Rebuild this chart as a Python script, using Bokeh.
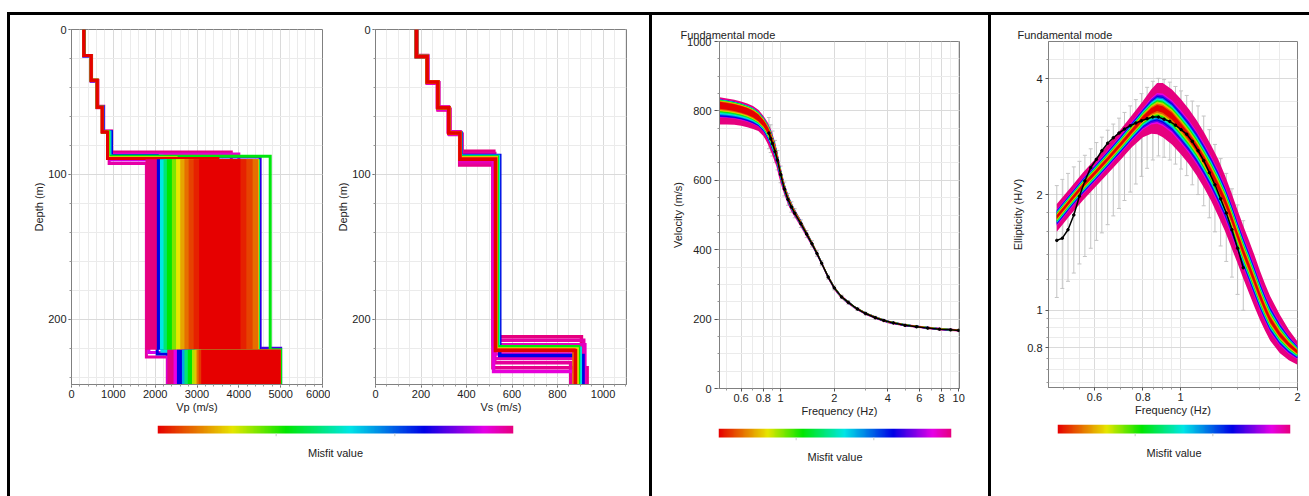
import numpy as np
from bokeh.plotting import figure
from bokeh.layouts import row, column
from bokeh.models import (Range1d, FixedTicker, Spacer, LinearColorMapper,
                          ColumnDataSource, Whisker, TeeHead, CustomJSTickFormatter)
from bokeh.embed import file_html
from bokeh.resources import INLINE

FONT = "Liberation Sans"
TXT = "#222222"

# ---------------------------------------------------------------- misfit scale
# 0 = best model (red) ... 1 = worst model (pink)
scale_pos = [0.0, 0.21, 0.36, 0.54, 0.75, 0.92, 1.0]
scale_rgb = [(230, 0, 0), (230, 230, 0), (0, 230, 0), (0, 230, 230),
             (0, 0, 230), (230, 0, 230), (230, 0, 127)]


def misfit_color(m):
    rgb = [int(round(np.interp(m, scale_pos, [c[k] for c in scale_rgb]))) for k in range(3)]
    return "#%02x%02x%02x" % tuple(rgb)


palette = [misfit_color(i / 255) for i in range(256)]

# ---------------------------------------------------------------- Vs models
DEPTH_MAX = 245
vs_misfit = [1.00, 0.99, 0.98, 0.97, 0.96, 0.95, 0.94, 0.93,
             0.75, 0.55, 0.37, 0.20, 0.09, 0.00]
vs_values = [
    [180, 229, 278, 327, 380, 520, 905],
    [180, 226, 272, 320, 370, 516, 930],
    [180, 228, 275, 325, 378, 524, 858],
    [180, 227, 273, 321, 374, 518, 915],
    [180, 229, 277, 326, 379, 522, 895],
    [180, 226, 273, 321, 372, 517, 920],
    [180, 228, 276, 324, 377, 521, 880],
    [180, 227, 274, 322, 375, 519, 910],
    [180, 228, 276, 324, 376, 546, 912],
    [180, 227, 275, 323, 374, 540, 900],
    [180, 227, 274, 322, 373, 535, 892],
    [180, 227, 274, 322, 372, 531, 886],
    [180, 227, 274, 322, 371, 529, 872],
    [180, 227, 274, 322, 371, 527, 879],
]
vs_depths = [
    [18.0, 36.8, 55.0, 72.5, 84.0, 212.0],
    [19.0, 36.0, 53.5, 70.5, 93.5, 233.5],
    [18.5, 37.0, 55.5, 72.0, 85.5, 230.0],
    [18.8, 36.5, 54.5, 71.0, 92.0, 214.5],
    [18.3, 36.9, 55.2, 72.3, 87.0, 227.0],
    [18.9, 36.1, 53.7, 70.8, 90.5, 217.5],
    [18.4, 36.7, 55.0, 72.1, 88.5, 224.0],
    [18.7, 36.2, 54.0, 71.2, 89.5, 236.0],
    [18.6, 36.4, 54.2, 71.6, 87.0, 225.0],
    [18.6, 36.3, 54.0, 71.5, 87.5, 220.0],
    [18.6, 36.3, 54.0, 71.5, 88.0, 219.0],
    [18.6, 36.3, 54.0, 71.5, 88.5, 220.5],
    [18.6, 36.3, 54.0, 71.5, 89.0, 221.0],
    [18.6, 36.3, 54.0, 71.5, 89.5, 221.5],
]

# ---------------------------------------------------------------- Vp models
vp_misfit = [1.00, 0.97, 0.94, 0.91, 0.80, 0.75, 0.55, 0.37, 0.37, 0.20, 0.00]
vp_values = [
    [300, 480, 630, 770, 960, 3820, 2290],
    [295, 465, 610, 740, 900, 1790, 2350],
    [300, 478, 625, 760, 950, 4000, 2400],
    [296, 470, 615, 750, 940, 1850, 2300],
    [298, 474, 620, 752, 945, 4510, 5000],
    [298, 476, 622, 756, 955, 2050, 2560],
    [297, 472, 616, 746, 920, 2160, 2650],
    [296, 470, 614, 740, 890, 4750, 5000],
    [296, 470, 614, 738, 880, 2330, 2750],
    [295, 470, 614, 735, 870, 2500, 2940],
    [295, 470, 614, 733, 860, 3500, 4000],
]
vp_depths = [
    [18.0, 35.0, 53.0, 70.0, 84.5, 216.0],
    [18.5, 35.5, 54.0, 71.0, 92.5, 226.0],
    [18.0, 35.2, 53.2, 70.3, 86.0, 219.0],
    [18.3, 35.6, 53.8, 70.5, 90.0, 223.0],
    [18.2, 35.4, 53.5, 70.6, 88.0, 220.0],
    [18.2, 35.4, 53.5, 70.5, 87.0, 224.0],
    [18.1, 35.2, 53.6, 70.8, 87.5, 222.0],
    [18.0, 35.0, 53.6, 70.8, 87.5, 221.0],
    [18.0, 35.0, 53.6, 70.8, 88.0, 222.5],
    [18.0, 35.0, 53.6, 70.8, 88.5, 221.5],
    [18.0, 35.0, 53.6, 70.8, 89.0, 221.5],
]

# dense ensemble of Vp in the deep layer and the half-space (range per misfit level)
vp_l6_misfit = [1.00, 0.75, 0.54, 0.45, 0.36, 0.28, 0.21, 0.15, 0.10, 0.06, 0.03, 0.00]
vp_l6_lo = [1770, 2040, 2115, 2200, 2280, 2400, 2500, 2600, 2700, 2800, 2920, 3050]
vp_l6_hi = [2050, 4520, 4505, 4495, 4490, 4485, 4480, 4475, 4460, 4330, 4180, 4040]
vp_l6_depth = [89.5, 221.0]
vp_hs_misfit = [1.00, 0.92, 0.75, 0.60, 0.45, 0.36, 0.25, 0.18, 0.10, 0.05, 0.00]
vp_hs_lo = [2290, 2440, 2520, 2640, 2700, 2780, 2880, 2940, 2990, 3040, 3100]
vp_hs_hi = [5000, 5000, 5000, 5000, 5000, 5000, 5000, 5000, 5000, 5000, 5000]
vp_hs_depth = [221.0, 245.0]

# ---------------------------------------------------------------- dispersion (Rayleigh, fundamental)
disp_freq = [0.455, 0.5, 0.55, 0.6, 0.65, 0.7, 0.75, 0.8, 0.825, 0.85, 0.875, 0.9, 0.925,
             0.95, 0.975, 1.0, 1.05, 1.1, 1.15, 1.2, 1.3, 1.4, 1.5, 1.6, 1.7, 1.85, 2.0,
             2.15, 2.3, 2.6, 3.0, 3.5, 4.0, 5.0, 6.0, 7.0, 8.0, 10.0]
disp_best = [812, 809, 805, 800, 794, 786, 775, 760, 750, 738, 723, 706, 688,
             668, 643, 617, 575, 545, 523, 505, 475, 445, 417, 389, 361, 321, 290,
             269, 255, 234, 216, 202, 192, 182, 177, 173.5, 170.5, 167.5]
disp_upper = [839, 836, 832, 827, 821, 814, 803, 786, 776, 765, 751, 734, 714,
              692, 665, 638, 593, 561, 537, 517, 486, 454, 425, 396, 367, 327, 296,
              274, 260, 238, 220, 206, 196, 186, 181, 177, 174, 171]
disp_lower = [761, 761, 760, 757, 753, 748, 742, 728, 716, 703, 688, 672, 655,
              638, 613, 592, 558, 530, 510, 494, 465, 436, 409, 382, 355, 315, 284,
              264, 250, 230, 212, 198, 188, 179, 174, 170, 167, 164]
disp_band_misfit = [1.00, 0.92, 0.82, 0.75, 0.64, 0.54, 0.45, 0.36, 0.25, 0.18, 0.09, 0.00]
disp_band_up = [1.00, 0.82, 0.80, 0.78, 0.77, 0.76, 0.75, 0.70, 0.66, 0.62, 0.58, 0.52]
disp_band_down = [1.00, 0.62, 0.58, 0.55, 0.48, 0.42, 0.36, 0.30, 0.26, 0.22, 0.18, 0.12]

disp_obs_freq = [0.86, 0.88, 0.90, 0.93, 0.96, 1.00, 1.05, 1.10, 1.15, 1.20, 1.30, 1.40, 1.50,
                 1.60, 1.70, 1.85, 2.00, 2.20, 2.40, 2.70, 3.00, 3.40, 3.80, 4.30, 5.00, 5.80,
                 6.70, 7.80, 9.00, 10.0]
disp_obs_vel = [736, 720, 706, 683, 658, 617, 575, 545, 523, 505, 475, 445, 417, 389, 361, 321,
                290, 264, 248, 229, 216, 204, 196, 189, 182, 178, 174, 171, 169, 167.5]
disp_obs_err = [45, 40, 36, 32, 28, 24, 20, 17, 15, 13, 11, 10, 9, 8, 7, 6, 6, 5, 5, 4, 4, 4,
                3, 3, 3, 3, 3, 3, 3, 3]

# ---------------------------------------------------------------- ellipticity (H/V)
ell_freq = [0.48, 0.52, 0.56, 0.60, 0.65, 0.70, 0.75, 0.80, 0.84, 0.87, 0.90, 0.95, 1.00, 1.05,
            1.10, 1.15, 1.20, 1.25, 1.30, 1.35, 1.40, 1.45, 1.50, 1.55, 1.60, 1.65, 1.70, 1.80,
            1.90, 2.00]
ell_best = [1.75, 1.93, 2.11, 2.27, 2.48, 2.70, 2.93, 3.16, 3.30, 3.36, 3.33, 3.20, 3.01, 2.83,
            2.65, 2.46, 2.28, 2.10, 1.93, 1.75, 1.57, 1.42, 1.30, 1.19, 1.09, 1.01, 0.945, 0.865,
            0.815, 0.78]
ell_upper = [1.89, 2.08, 2.28, 2.46, 2.70, 2.95, 3.22, 3.50, 3.75, 3.90, 3.90, 3.75, 3.55, 3.34,
             3.12, 2.90, 2.68, 2.47, 2.25, 2.03, 1.83, 1.66, 1.52, 1.39, 1.27, 1.17, 1.09, 0.975,
             0.89, 0.83]
ell_lower = [1.60, 1.77, 1.93, 2.08, 2.27, 2.46, 2.66, 2.82, 2.88, 2.87, 2.82, 2.70, 2.55, 2.40,
             2.24, 2.08, 1.92, 1.76, 1.61, 1.46, 1.33, 1.21, 1.11, 1.02, 0.945, 0.885, 0.835,
             0.775, 0.742, 0.722]
ell_band_misfit = [1.00, 0.92, 0.82, 0.75, 0.64, 0.54, 0.45, 0.36, 0.27, 0.18, 0.09, 0.00]
ell_band_frac = [1.00, 0.60, 0.54, 0.48, 0.43, 0.38, 0.34, 0.30, 0.26, 0.22, 0.18, 0.12]

ell_obs_freq = [0.480, 0.496, 0.513, 0.531, 0.549, 0.567, 0.587, 0.607, 0.627, 0.649, 0.671,
                0.694, 0.717, 0.742, 0.767, 0.793, 0.820, 0.848, 0.877, 0.907, 0.938, 0.970,
                1.003, 1.037, 1.072, 1.109, 1.147, 1.186, 1.226, 1.268, 1.311, 1.356, 1.402, 1.450]
ell_obs = [1.52, 1.54, 1.62, 1.77, 1.98, 2.17, 2.35, 2.47, 2.60, 2.72, 2.81, 2.89, 2.96, 3.02,
           3.07, 3.11, 3.15, 3.18, 3.18, 3.14, 3.10, 3.03, 2.95, 2.87, 2.75, 2.60, 2.45, 2.28,
           2.12, 1.95, 1.79, 1.62, 1.45, 1.29]
ell_obs_hi = [2.11, 2.19, 2.27, 2.36, 2.44, 2.53, 2.63, 2.73, 2.82, 2.94, 3.05, 3.16, 3.27, 3.40,
              3.53, 3.66, 3.80, 3.94, 4.01, 3.98, 3.92, 3.82, 3.72, 3.62, 3.50, 3.40, 3.20, 2.95,
              2.70, 2.48, 2.27, 2.07, 1.88, 1.71]
ell_obs_lo = [1.08, 1.14, 1.19, 1.25, 1.32, 1.38, 1.45, 1.52, 1.59, 1.67, 1.76, 1.84, 1.93, 2.03,
              2.13, 2.23, 2.34, 2.46, 2.52, 2.50, 2.46, 2.40, 2.33, 2.24, 2.12, 2.00, 1.87, 1.74,
              1.60, 1.47, 1.34, 1.22, 1.10, 1.00]


# ---------------------------------------------------------------- helpers
def style(p, ytick_out=3, ystand=2, ylab_stand=0, xstand=2, xlab_stand=0):
    for ax in p.axis:
        ax.axis_line_color = "#808080"
        ax.major_tick_line_color = "#555555"
        ax.minor_tick_line_color = "#999999"
        ax.major_tick_in = 0
        ax.minor_tick_in = 0
        ax.minor_tick_out = 2
        ax.major_label_text_font = FONT
        ax.major_label_text_font_size = "11px"
        ax.major_label_text_color = TXT
        ax.axis_label_text_font = FONT
        ax.axis_label_text_font_size = "11px"
        ax.axis_label_text_font_style = "normal"
        ax.axis_label_text_color = TXT
    p.yaxis.major_tick_out = ytick_out
    p.yaxis.major_label_standoff = ystand
    p.yaxis.axis_label_standoff = ylab_stand
    p.xaxis.major_tick_out = 3
    p.xaxis.major_label_standoff = xstand
    p.xaxis.axis_label_standoff = xlab_stand
    p.grid.grid_line_color = "#dadada"
    p.grid.minor_grid_line_color = "#ebebeb"
    p.outline_line_color = "#808080"
    p.background_fill_color = "white"


def plain_labels():
    return CustomJSTickFormatter(code="return String(Math.round(tick * 1000) / 1000);")


def step_path(vals, depths):
    xs, ys, top = [], [], 0.0
    for v, z in zip(vals, list(depths) + [DEPTH_MAX]):
        xs += [v, v]
        ys += [top, z]
        top = z
    return xs, ys


def profile_figure(width, x_end, x_step, x_minor, xlabel, left, right):
    p = figure(width=width, height=400, x_range=Range1d(0, x_end),
               y_range=Range1d(DEPTH_MAX, 0), toolbar_location=None,
               output_backend="svg", min_border_left=left, min_border_right=right,
               min_border_top=14, min_border_bottom=31)
    p.xaxis.ticker = FixedTicker(ticks=list(range(0, x_end + 1, x_step)),
                                 minor_ticks=list(range(0, x_end + 1, x_minor)))
    p.yaxis.ticker = FixedTicker(ticks=[0, 100, 200], minor_ticks=list(range(0, 241, 20)))
    p.xaxis.axis_label = xlabel
    p.yaxis.axis_label = "Depth (m)"
    style(p)
    return p


def draw_models(p, misfits, values, depths, width=3):
    order = np.argsort(misfits, kind="stable")[::-1]
    xs, ys, cols = [], [], []
    for i in order:
        x, y = step_path(values[i], depths[i])
        xs.append(x)
        ys.append(y)
        cols.append(misfit_color(misfits[i]))
    p.multi_line(xs=xs, ys=ys, line_color=cols, line_width=width, line_join="miter")


def misfit_bar(width, height, left, right, top, bottom, bar_h):
    tick = 3.0
    p = figure(width=width, height=height, x_range=Range1d(0, 1),
               y_range=Range1d(-tick / bar_h, 1), toolbar_location=None,
               output_backend="svg", min_border_left=left, min_border_right=right,
               min_border_top=top, min_border_bottom=bottom)
    cmap = LinearColorMapper(palette=palette, low=0, high=1)
    p.image(image=[np.array([np.linspace(0, 1, 256)])], x=0, y=0, dw=1, dh=1,
            color_mapper=cmap)
    p.segment(x0=[1 / 3, 2 / 3], y0=[-tick / bar_h] * 2, x1=[1 / 3, 2 / 3], y1=[0, 0],
              line_color="#c8c8c8", line_width=1)
    p.yaxis.visible = False
    p.grid.visible = False
    p.outline_line_color = None
    ax = p.xaxis[0]
    ax.ticker = FixedTicker(ticks=[], minor_ticks=[])
    ax.axis_line_color = None
    ax.axis_label = "Misfit value"
    ax.axis_label_text_font = FONT
    ax.axis_label_text_font_size = "11px"
    ax.axis_label_text_font_style = "normal"
    ax.axis_label_text_color = TXT
    ax.axis_label_standoff = 10
    return p


# ---------------------------------------------------------------- Vp profile
p_vp = profile_figure(320, 6000, 1000, 200, "Vp (m/s)", 61, 8)
draw_models(p_vp, vp_misfit, vp_values, vp_depths)
for mis, lo, hi in zip(vp_l6_misfit, vp_l6_lo, vp_l6_hi):
    p_vp.quad(left=[lo], right=[hi], top=[vp_l6_depth[0]], bottom=[vp_l6_depth[1]],
              fill_color=misfit_color(mis), line_color=None)
for mis, lo, hi in zip(vp_hs_misfit, vp_hs_lo, vp_hs_hi):
    p_vp.quad(left=[lo], right=[hi], top=[vp_hs_depth[0]], bottom=[vp_hs_depth[1]],
              fill_color=misfit_color(mis), line_color=None)
best_vp = int(np.argmin(vp_misfit))
bx, by = step_path(vp_values[best_vp][:5], vp_depths[best_vp][:5])
p_vp.line(x=bx[:-1], y=by[:-1], line_color=misfit_color(0), line_width=3, line_join="miter")

# ---------------------------------------------------------------- Vs profile
p_vs = profile_figure(319, 1100, 200, 50, "Vs (m/s)", 45, 23)
p_vs.x_range.end = 1103
draw_models(p_vs, vs_misfit, vs_values, vs_depths, width=3.5)

# ---------------------------------------------------------------- dispersion curve
p_d = figure(width=336, height=405, x_axis_type="log", x_range=Range1d(0.454, 10.1),
             y_range=Range1d(0, 1000), toolbar_location=None, output_backend="svg",
             min_border_left=67, min_border_right=29, min_border_top=26, min_border_bottom=32)
p_d.xaxis.ticker = FixedTicker(ticks=[0.6, 0.8, 1, 2, 4, 6, 8, 10],
                               minor_ticks=[0.5, 0.7, 0.9, 3, 5, 7, 9])
p_d.xaxis.formatter = plain_labels()
p_d.yaxis.ticker = FixedTicker(ticks=list(range(0, 1001, 200)),
                               minor_ticks=list(range(0, 1001, 50)))
p_d.xaxis.axis_label = "Frequency (Hz)"
p_d.yaxis.axis_label = "Velocity (m/s)"
style(p_d, ytick_out=5, ystand=3)
f = np.array(disp_freq)
c = np.array(disp_best, float)
hi = np.array(disp_upper, float)
lo = np.array(disp_lower, float)
for mis, uf, df in zip(disp_band_misfit, disp_band_up, disp_band_down):
    p_d.varea(x=f, y1=c - df * (c - lo), y2=c + uf * (hi - c), fill_color=misfit_color(mis))
dsrc = ColumnDataSource(dict(f=disp_obs_freq,
                             lo=[v - e for v, e in zip(disp_obs_vel, disp_obs_err)],
                             hi=[v + e for v, e in zip(disp_obs_vel, disp_obs_err)]))
p_d.add_layout(Whisker(source=dsrc, base="f", lower="lo", upper="hi", line_color="#c0c0c0",
                       upper_head=TeeHead(size=4, line_color="#c0c0c0"),
                       lower_head=TeeHead(size=4, line_color="#c0c0c0")))
p_d.line(disp_obs_freq, disp_obs_vel, line_color="black", line_width=1.5)
p_d.scatter(disp_obs_freq, disp_obs_vel, size=2.5, color="black")
p_d.title.text = "Fundamental mode"
p_d.title.align = "left"
p_d.title.offset = -39
p_d.title.standoff = 2
p_d.title.text_font = FONT
p_d.title.text_font_size = "11px"
p_d.title.text_font_style = "normal"
p_d.title.text_color = TXT

# ---------------------------------------------------------------- ellipticity curve
p_e = figure(width=318, height=405, x_axis_type="log", y_axis_type="log",
             x_range=Range1d(0.457, 2.0), y_range=Range1d(0.63, 5.0),
             toolbar_location=None, output_backend="svg",
             min_border_left=57, min_border_right=12, min_border_top=26, min_border_bottom=33)
p_e.xaxis.ticker = FixedTicker(ticks=[0.6, 0.8, 1, 2],
                               minor_ticks=[0.5, 0.55, 0.65, 0.7, 0.75, 0.85, 0.9, 0.95,
                                            1.2, 1.4, 1.6, 1.8])
p_e.yaxis.ticker = FixedTicker(ticks=[0.8, 1, 2, 4],
                               minor_ticks=[0.65, 0.7, 0.75, 0.85, 0.9, 0.95, 1.2, 1.4, 1.6,
                                            1.8, 2.5, 3, 3.5, 4.5])
p_e.xaxis.formatter = plain_labels()
p_e.yaxis.formatter = plain_labels()
p_e.xaxis.axis_label = "Frequency (Hz)"
p_e.yaxis.axis_label = "Ellipticity (H/V)"
style(p_e, ytick_out=3, ystand=3)
ef = np.array(ell_freq)
ec = np.log(np.array(ell_best))
eh = np.log(np.array(ell_upper))
el = np.log(np.array(ell_lower))
for mis, fr in zip(ell_band_misfit, ell_band_frac):
    p_e.varea(x=ef, y1=np.exp(ec - fr * (ec - el)), y2=np.exp(ec + fr * (eh - ec)),
              fill_color=misfit_color(mis))
esrc = ColumnDataSource(dict(f=ell_obs_freq, lo=ell_obs_lo, hi=ell_obs_hi))
p_e.add_layout(Whisker(source=esrc, base="f", lower="lo", upper="hi", line_color="#c4c4c4",
                       upper_head=TeeHead(size=4, line_color="#c4c4c4"),
                       lower_head=TeeHead(size=4, line_color="#c4c4c4")))
p_e.line(ell_obs_freq, ell_obs, line_color="black", line_width=1.5)
p_e.scatter(ell_obs_freq, ell_obs, size=2.5, color="black")
p_e.title.text = "Fundamental mode"
p_e.title.align = "left"
p_e.title.offset = -31
p_e.title.standoff = 2
p_e.title.text_font = FONT
p_e.title.text_font_size = "11px"
p_e.title.text_font_style = "normal"
p_e.title.text_color = TXT

# ---------------------------------------------------------------- colour bars
cb1 = misfit_bar(639, 81, 147, 136, 10, 60, 8)
cb2 = misfit_bar(336, 76, 66, 37, 8, 56, 9)
cb3 = misfit_bar(318, 76, 66, 19, 4, 60, 9)

# ---------------------------------------------------------------- page frame
BLACK = {"background-color": "#000000"}


def vline():
    return Spacer(width=3, height=481, styles=BLACK)


# each colour bar sits in its own row so its frame is laid out independently
panel1 = column(row(p_vp, p_vs), row(cb1))
panel2 = column(row(p_d), row(cb2))
panel3 = column(row(p_e), row(cb3))

layout = column(
    Spacer(width=1309, height=12),
    row(Spacer(width=7, height=3), Spacer(width=1302, height=3, styles=BLACK)),
    row(Spacer(width=7, height=481), vline(), panel1, vline(), panel2, vline(), panel3),
)

open("out.html", "w").write(file_html(layout, INLINE))
